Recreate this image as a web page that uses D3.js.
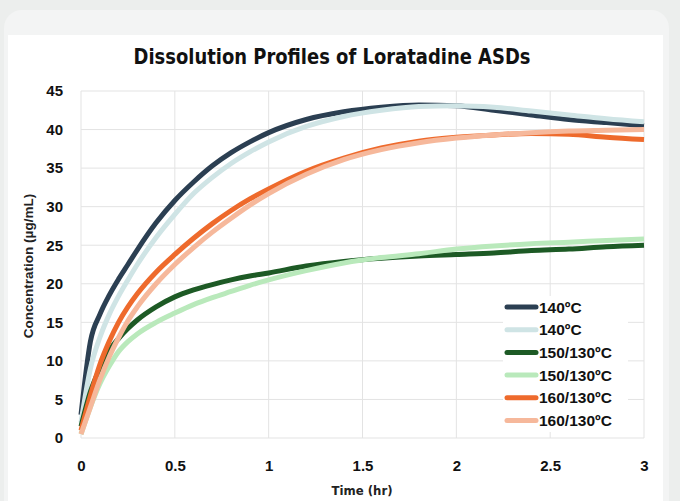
<!DOCTYPE html>
<html lang='en'>

<head>
   <meta charset='UTF-8'>
   <title>Dissolution Profiles of Loratadine ASDs</title>
   <script src='https://d3js.org/d3.v7.min.js'></script>
   <style>
      body {
         margin: 0;
         background: #eceeed;
      }

      svg {
         display: block;
      }
   </style>
</head>

<body>
   <div id='svg-container'></div>
   <script>

      // time points (hr)
      const times = [0, 0.05, 0.1, 0.15, 0.2, 0.25, 0.3, 0.4, 0.5, 0.6, 0.7, 0.8, 0.9, 1.0,
         1.2, 1.4, 1.6, 1.8, 2.0, 2.2, 2.4, 2.6, 2.8, 3.0];

      // concentrations (µg/mL)
      const c140a = [3, 12.5, 16.0, 18.5, 20.6, 22.5, 24.4, 27.9, 30.8, 33.2, 35.3, 37, 38.4, 39.6,
         41.3, 42.3, 42.9, 43.2, 43.1, 42.5, 41.9, 41.3, 40.9, 40.5];
      const c140b = [2, 9, 13, 16, 18.4, 20.5, 22.5, 26, 29, 31.7, 33.8, 35.6, 37.1, 38.4,
         40.4, 41.7, 42.5, 43.0, 43.1, 42.9, 42.4, 41.9, 41.4, 41.0];
      const c150a = [1.5, 6, 9, 11.3, 12.9, 14.2, 15.3, 17, 18.3, 19.2, 19.9, 20.5, 21, 21.4,
         22.3, 22.9, 23.3, 23.6, 23.8, 24.0, 24.3, 24.5, 24.8, 25.0];
      const c150b = [0.5, 4, 7, 9.3, 11.2, 12.5, 13.5, 15, 16.2, 17.3, 18.2, 19, 19.8, 20.5,
         21.7, 22.7, 23.4, 23.9, 24.5, 24.9, 25.2, 25.4, 25.6, 25.8];
      const c160a = [1, 5.5, 9.5, 12.5, 15, 17, 18.7, 21.5, 23.8, 25.9, 27.8, 29.5, 31, 32.3,
         34.6, 36.3, 37.6, 38.5, 39.0, 39.3, 39.5, 39.4, 39.0, 38.7];
      const c160b = [0.5, 4, 7.5, 10.5, 13, 15.2, 17, 20, 22.5, 24.7, 26.7, 28.5, 30.2, 31.7,
         34.2, 36.1, 37.4, 38.3, 38.9, 39.3, 39.6, 39.8, 39.9, 40.0];

      const seriesNames = ['140ºC', '140ºC', '150/130ºC', '150/130ºC', '160/130ºC', '160/130ºC'];
      const seriesColors = ['#2b3f52', '#cfe4e5', '#1d5a25', '#b9e9bb', '#ee6a2c', '#f6b89b'];
      const seriesValues = [c140a, c140b, c150a, c150b, c160a, c160b];

      const xTicks = [0, 0.5, 1, 1.5, 2, 2.5, 3];
      const yTicks = [0, 5, 10, 15, 20, 25, 30, 35, 40, 45];

      const W = 680, H = 501;
      const margins = { top: 91, right: 36, bottom: 63, left: 81 };
      const width = W - margins.left - margins.right;
      const height = H - margins.top - margins.bottom;

      const canvas = d3.select('#svg-container').append('svg').attr('width', W).attr('height', H);

      // card background
      canvas.append('rect').attr('x', 4).attr('y', 10).attr('width', 665).attr('height', 520)
         .attr('rx', 18).attr('fill', '#f3f4f4');
      canvas.append('rect').attr('x', 8).attr('y', 35).attr('width', 655).attr('height', 470)
         .attr('fill', '#ffffff');

      canvas.append('text')
         .attr('x', 332).attr('y', 64)
         .attr('text-anchor', 'middle')
         .attr('textLength', 397)
         .attr('lengthAdjust', 'spacingAndGlyphs')
         .style('font-family', "'DejaVu Sans', sans-serif")
         .style('font-weight', 'bold')
         .style('font-size', '21px')
         .attr('fill', '#111')
         .text('Dissolution Profiles of Loratadine ASDs');

      const g = canvas.append('g').attr('transform', `translate(${margins.left}, ${margins.top})`);

      const x = d3.scaleLinear().domain([0, 3]).range([0, width]);
      const y = d3.scaleLinear().domain([0, 45]).range([height, 0]);

      // gridlines
      g.append('g').selectAll('line').data(yTicks).join('line')
         .attr('x1', 0).attr('x2', width)
         .attr('y1', d => y(d)).attr('y2', d => y(d))
         .attr('stroke', '#e3e3e3').attr('stroke-width', 1);
      g.append('g').selectAll('line').data(xTicks).join('line')
         .attr('y1', 0).attr('y2', height)
         .attr('x1', d => x(d)).attr('x2', d => x(d))
         .attr('stroke', '#e3e3e3').attr('stroke-width', 1);

      const leftAxisCall = d3.axisLeft(y).tickValues(yTicks).tickSize(0).tickPadding(18);
      const yAxis = g.append('g').call(leftAxisCall);
      const bottomAxisCall = d3.axisBottom(x).tickValues(xTicks).tickSize(0).tickPadding(22)
         .tickFormat(d3.format('~g'));
      const xAxis = g.append('g').attr('transform', `translate(0, ${height})`).call(bottomAxisCall);
      [yAxis, xAxis].forEach(a => {
         a.select('.domain').remove();
         a.selectAll('text')
            .style('font-family', "'Liberation Sans', Arial, sans-serif")
            .style('font-weight', 'bold')
            .style('font-size', '15px')
            .attr('fill', '#111');
      });

      const line = d3.line()
         .x((d, i) => x(times[i]))
         .y(d => y(d))
         .curve(d3.curveMonotoneX);

      g.selectAll('.series').data(seriesValues).join('path')
         .attr('class', 'series')
         .attr('fill', 'none')
         .attr('stroke', (d, i) => seriesColors[i])
         .attr('stroke-width', 5)
         .attr('stroke-linejoin', 'round')
         .attr('d', d => line(d));

      // axis titles
      canvas.append('text')
         .attr('transform', 'rotate(-90)')
         .attr('x', -266).attr('y', 33)
         .attr('text-anchor', 'middle')
         .style('font-family', "'Liberation Sans', Arial, sans-serif")
         .style('font-weight', 'bold')
         .style('font-size', '13.5px')
         .attr('fill', '#222')
         .text('Concentration (µg/mL)');

      canvas.append('text')
         .attr('x', 362).attr('y', 495)
         .attr('text-anchor', 'middle')
         .style('font-family', "'DejaVu Sans', sans-serif")
         .style('font-weight', 'bold')
         .style('font-size', '13px')
         .attr('textLength', 61)
         .attr('lengthAdjust', 'spacingAndGlyphs')
         .attr('fill', '#222')
         .text('Time (hr)');

      // legend
      const legend = canvas.append('g').attr('transform', 'translate(503, 296)');
      legend.append('rect').attr('x', 0).attr('y', 0).attr('width', 125).attr('height', 136)
         .attr('fill', '#fff');
      const rows = legend.selectAll('.row').data(seriesNames).join('g')
         .attr('class', 'row')
         .attr('transform', (d, i) => `translate(0, ${11 + i * 22.7})`);
      rows.append('line')
         .attr('x1', 4).attr('x2', 33)
         .attr('stroke', (d, i) => seriesColors[i])
         .attr('stroke-width', 5)
         .attr('stroke-linecap', 'round');
      rows.append('text')
         .attr('x', 36).attr('y', 5.5)
         .style('font-family', "'Liberation Sans', Arial, sans-serif")
         .style('font-weight', 'bold')
         .style('font-size', '15.5px')
         .attr('fill', '#111')
         .text(d => d);

   </script>
</body>

</html>
